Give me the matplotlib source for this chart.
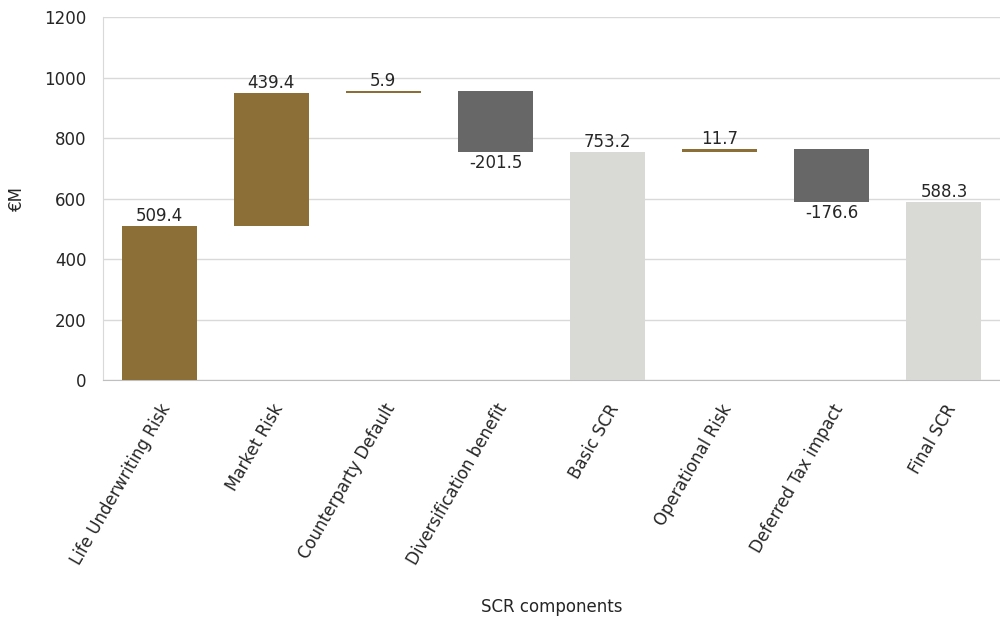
import matplotlib.pyplot as plt
import numpy as np

categories = ["Life Underwriting Risk", "Market Risk", "Counterparty Default",
              "Diversification benefit", "Basic SCR", "Operational Risk",
              "Deferred Tax impact", "Final SCR"]
values = [509.4, 439.4, 5.9, -201.5, 753.2, 11.7, -176.6, 588.3]
is_total = [False, False, False, False, True, False, False, True]

BROWN = "#8B6F37"
DARK = "#676767"
LIGHT = "#D9D9D5"

plt.rcParams['font.family'] = ['DejaVu Sans']

fig = plt.figure(figsize=(10, 6.23), dpi=100)
ax = fig.add_axes([0.103, 0.39, 0.897, 0.5827])

x = np.arange(len(categories))
running = 0.0
for i, v in enumerate(values):
    if is_total[i]:
        bottom, height, col = 0, v, LIGHT
        running = v
    else:
        if v >= 0:
            bottom, height, col = running, v, BROWN
        else:
            bottom, height, col = running + v, -v, DARK
        running += v
    ax.bar(x[i], height, bottom=bottom, width=0.67, color=col, zorder=3)
    if v >= 0:
        ax.text(x[i], bottom + height + 3, f"{v:.1f}", ha="center", va="bottom",
                fontsize=12, color="#262626", zorder=4)
    else:
        ax.text(x[i], bottom - 6, f"{v:.1f}", ha="center", va="top",
                fontsize=12, color="#262626", zorder=4)

ax.set_xlim(-0.5, len(categories) - 0.5)
ax.set_ylim(0, 1200)
ax.set_yticks(np.arange(0, 1201, 200))
ax.yaxis.grid(True, color="#D9D9D9", linewidth=1, zorder=0)
ax.set_xticks(x)
ax.set_xticklabels(categories, rotation=60, ha="right", rotation_mode="anchor",
                   fontsize=12, color="#262626")
ax.tick_params(axis="y", labelsize=12, labelcolor="#262626", length=0, pad=12)
ax.tick_params(axis="x", length=0, pad=15)

for s in ["top", "right"]:
    ax.spines[s].set_visible(False)
ax.spines["left"].set_color("#D9D9D9")
ax.spines["bottom"].set_color("#BFBFBF")

ax.set_ylabel("€M", fontsize=12, color="#262626", labelpad=13)
ax.set_xlabel("SCR components", fontsize=12, color="#262626", labelpad=21)

fig.savefig("out.png", dpi=100)
